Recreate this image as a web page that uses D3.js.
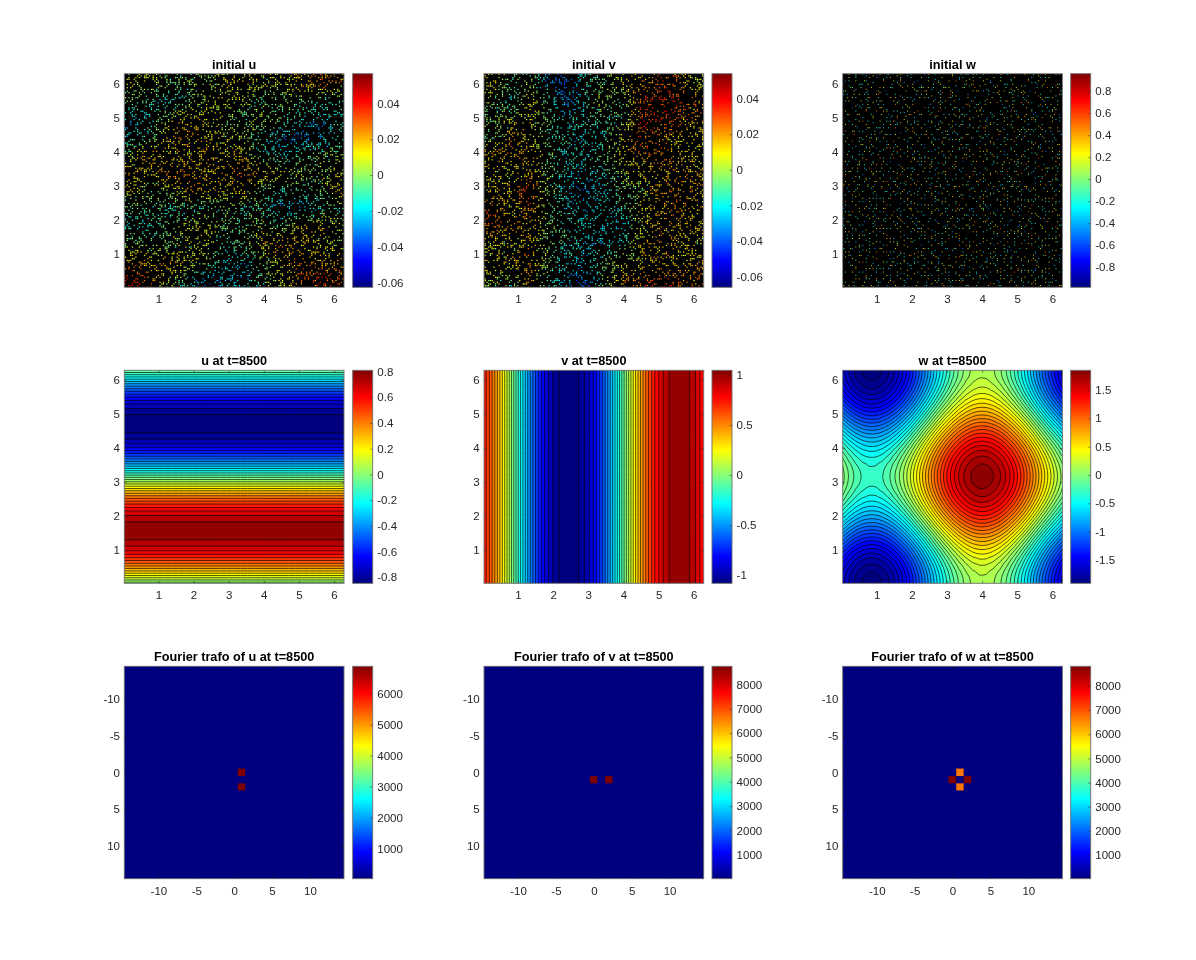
<!DOCTYPE html>
<html><head><meta charset="utf-8">
<script src="https://cdn.jsdelivr.net/npm/d3@7"></script>
<style>html,body{margin:0;background:#fff}svg{display:block}text{font-family:"Liberation Sans",Arial,sans-serif}</style>
</head><body><div id="chart"></div>
<script>
// ---------- values ----------
const titles = ["initial u","initial v","initial w","u at t=8500","v at t=8500","w at t=8500",
  "Fourier trafo of u at t=8500","Fourier trafo of v at t=8500","Fourier trafo of w at t=8500"];
const spaceTicks = [1,2,3,4,5,6];
const fourierTicks = [-10,-5,0,5,10];
const cbarDomains = [[-0.0627,0.0566],[-0.066,0.054],[-0.984,0.96],[-0.847,0.81],[-1.083,1.047],[-1.912,1.847],[20,6884],[10,8750],[10,8820]];
const cbarTicks = [
  [-0.06,-0.04,-0.02,0,0.02,0.04],[-0.06,-0.04,-0.02,0,0.02,0.04],[-0.8,-0.6,-0.4,-0.2,0,0.2,0.4,0.6,0.8],
  [-0.8,-0.6,-0.4,-0.2,0,0.2,0.4,0.6,0.8],[-1,-0.5,0,0.5,1],[-1.5,-1,-0.5,0,0.5,1,1.5],
  [1000,2000,3000,4000,5000,6000],[1000,2000,3000,4000,5000,6000,7000,8000],[1000,2000,3000,4000,5000,6000,7000,8000]];

// profiles sampled every pi/16 from 0 to 2pi, estimated from band positions and colours
const uAlongY = [-0.018,0.143,0.299,0.442,0.567,0.670,0.747,0.794,0.810,0.794,0.747,0.670,0.567,0.442,0.299,0.143,-0.018,
  -0.179,-0.335,-0.478,-0.603,-0.706,-0.783,-0.830,-0.846,-0.830,-0.783,-0.706,-0.603,-0.478,-0.335,-0.179,-0.018];
const vAlongX = [0.802,0.653,0.477,0.286,0.081,-0.129,-0.333,-0.523,-0.696,-0.843,-0.961,-1.039,-1.079,-1.078,-1.034,-0.954,-0.836,
  -0.688,-0.514,-0.322,-0.116,0.093,0.297,0.490,0.663,0.810,0.925,1.003,1.043,1.042,0.999,0.918,0.801];
const wAlongX = [-0.690,-0.830,-0.942,-1.017,-1.052,-1.047,-1.001,-0.917,-0.798,-0.648,-0.474,-0.281,-0.077,0.130,0.331,0.520,0.690,
  0.832,0.942,1.017,1.052,1.047,1.001,0.918,0.799,0.648,0.475,0.282,0.077,-0.130,-0.331,-0.520,-0.690];
const wAlongY = [-0.858,-0.846,-0.804,-0.732,-0.634,-0.511,-0.370,-0.217,-0.056,0.105,0.261,0.406,0.533,0.640,0.720,0.771,0.792,
  0.780,0.738,0.666,0.567,0.445,0.304,0.151,-0.009,-0.171,-0.327,-0.472,-0.600,-0.705,-0.785,-0.838,-0.856];
// contour levels: lowest, highest, count of intervals
const contourLevels = [[-0.814,0.778,30],[-1.04,1.002,30],[-1.866,1.79,42]];

// Fourier peaks [k, l, magnitude]; everything else sits at the colour-bar minimum
const fourierU = [[1,0,6884],[1,2,6884]];
const fourierV = [[0,1,8750],[2,1,8750]];
const fourierW = [[0,1,8820],[2,1,8820],[1,0,6700],[1,2,6700]];
const fourierModes = d3.range(-14,15);

// coarse estimate of the initial u and v fields, x 1000; rows run top to bottom
const initialUCoarse = [
 [5,8,-5,-3,0,8,10,5,5,15,25,20],[-5,-15,-20,-10,5,5,0,-10,-5,-5,-15,-10],
 [-25,-15,5,15,10,0,-5,5,-5,-15,-25,-15],[-20,-10,15,22,12,5,0,-15,-25,-35,-30,-15],
 [5,20,10,10,15,15,10,-10,-20,-15,0,-5],[15,12,25,25,15,15,28,15,10,5,-5,5],
 [10,-5,5,15,20,10,15,-5,-15,-10,-10,20],[-10,-5,-15,-10,-15,-5,-10,-10,-25,-30,-20,-10],
 [-20,-15,-5,5,10,-5,-10,5,-10,10,20,5],[0,-5,-5,5,5,-15,-5,15,25,15,5,0],
 [20,15,20,10,0,-20,-25,-5,10,25,20,15],[40,20,5,-15,-35,-20,-30,-5,5,20,35,30]];
const initialVCoarse = [
 [10,-15,-5,-30,-45,-15,-10,5,15,25,20,0],[-5,-20,5,-10,-35,-20,5,-15,25,35,30,20],
 [-5,0,10,-10,-25,-15,-15,-10,25,30,25,15],[-10,15,5,-15,-20,-25,-20,5,30,20,10,10],
 [15,20,15,-5,-20,-20,-10,5,15,25,15,5],[5,0,15,-5,-25,-25,-20,0,10,10,15,15],
 [10,15,30,0,-30,-30,-25,-10,-5,15,20,15],[25,5,25,-10,-20,-30,-20,-15,5,10,20,10],
 [25,15,15,-5,-15,-20,-25,-30,0,20,15,10],[5,0,15,-10,-15,-25,-25,-20,10,15,15,5],
 [10,10,20,-5,-25,-25,-10,0,5,15,5,15],[0,-10,15,-15,-30,-40,-10,15,20,30,25,20]];

// Hand-typed speckle texture. It imitates the noise; it is NOT a pixel reading of the reference.
// '.' = hidden under black contour lines, digit = local deviation from the coarse field.
const speckleTile = [
"..37...5....82..6.....47...3...58.....2...64....7..39...",
".46....53.....7.14...8...62....3.....715.....8.2...4..6.",
"...5.28...6.....3...59.....4.71...63....8......53..7....",
".7....4.....39....6....2.8.....5....46...27.......6...38.",
"..82.....61...5..47.....3...69.....7...5...4.83......1..",
"5.....37....4.....8...26....4...52.....8.....6...27...4",
"...46...2...75.......3.58.....1...6.37.....4.5......82..",
".8...5....3....6.24.....7...4.....8....25.....63...5....7",
"..3....71...58......46...2....69.....4...7.3.....82...5.",
"6...42.....3....7...5.....86.....3.5.....62...4.....7.1.",
"...7...58.....26.....3.7....4.2.....81....5....63....4..",
".25.....4.63.....8....5...3....7.46.....2...75......3..8",
"4....36....7...52...4.....61.....5.....37.....8..26.....",
"..68.....2...4......73...5...82....4.6.....5...3....75..",
".....5.47....36....2.....8...4.....63...7.1.....48.....2",
"37......5.....8..64....3...5.....72.....4.....6.3...58..",
"..4.26....8....3.....57.....4.6.....5.83....2....7....4.",
".6....53.....74...2....8.35.....6....1...47.....5...82..",
"...8.....36...5...47.....2....74....5.....6.3......4.7..",
"5..2.47.....6.....3.85.....6.....2.4.....73...58.....3..",
"..7.....58....24......6...3.5.7.....46.....8.....2.6...5",
".4...63.....7...5.8.....24.....5.3.....6.2....47.....8..",
"...35.....2..68.....4...7.....36....7.5.....4.....63...2.",
"8......46...3....72....5.63.....4.....28.....7.5......4.",
".52...7.....4.6.....38....2...7.....64...5......83...6..",
"...4.....85.....3.7.....46....5.2.....3.....67....4.2...",
"6...73.....2.54.....8.....3.6.....48....5.7.....2...6.3.",
"..2....6.48......5...37.....4....71.....6.....53....8...",
".7.5.....3...62.....4....85.....3...6.2....47......5..36",
"....84....5.....7.3...6.....52....8.....4.5.....26.....7",
"3.6.....27...4....5.....71...4.6.....35.....8.2....4....",
"...5.7.....6.38.....42....6.....5..7.....36....4...8.25.",
".48.....3.....5.6...7.2.....83.....4.....7.5.....63.....",
"5....62....8.4.....3.....57....2.6....8.....4.27.....5.3",
"..7.3.....5....26.....84....6.....53...7.....2...48.....",
".....4.68.....3...7.5.....2.4....6.....35.8.....7...2.6.",
"26.....5...47.....3...68.....7.2.....5....4.6.....83....",
"...83.....6.2.....54....7.3.....46......7...5.2.....6..4",
".5....7.4.....68.....2....4.5.....73.....6.....48...3...",
"..4.6.....38....5...72.....6...8.2.....54....3.....7.5.."];
// hand-typed column offsets that keep the tile rows from lining up
const rowOffsets = [0,17,5,29,11,37,3,23,41,13,31,7,47,19,2,43,26,9,35,15,52,21,6,39,12,33,27,1,45,18,8,49,24,14,36,4];
const droppedDigits = "2537";
// sparser speckle of the initial w panel; digit d stands for the value (d-5)*0.17
const sparseTile = [
"...6.....4...5.....7...3.....5...6....4...",
"..........................................",
".5...3.....6.......4.....8...5.....3......",
"........5.......................4.......6.",
"..4.....7...5...3.....6...2.....5.....7...",
"..........................................",
"6...5.......4.....8.....5.....6.....4.....",
"............3.............................",
"...4...6.......5.....3...7.......6...5....",
"..........................................",
".7.....5...2.....6.....4.....5...8.....6..",
"....................5.....................",
"...5.....6...4.......7...5.....3.......4..",
".........................................."];

// ---------- layout ----------
const W = 1196, H = 960;
const colLeft = [124.3,484,842.7], plotW = 219.7, cbLeft = [352.7,712,1070.7], cbW = 20;
const rowTop = [73.7,370.3,666.3], plotH = [213.6,213,212.4];
const titleGap = [4.7,5.6,5.6];
const tickColor = "#262626", boxColor = "#6e6e6e", fs = 11.5;

const jetStops = ["#00007f","#0000ff","#00ffff","#ffff00","#ff0000","#7f0000"];
const jetPos = [0,0.125,0.375,0.625,0.875,1];
const jet = domain => d3.scaleLinear().domain(jetPos.map(p => domain[0]+p*(domain[1]-domain[0]))).range(jetStops).clamp(true);

const svg = d3.select("#chart").append("svg").attr("width",W).attr("height",H).attr("viewBox",`0 0 ${W} ${H}`);
svg.append("rect").attr("width",W).attr("height",H).attr("fill","#fff");
const defs = svg.append("defs");
const softFilter = (id,sd) => defs.append("filter").attr("id",id)
  .attr("filterUnits","userSpaceOnUse").attr("x",0).attr("y",0).attr("width",W).attr("height",H)
  .attr("color-interpolation-filters","sRGB")
  .append("feGaussianBlur").attr("stdDeviation",sd);
softFilter("softSpeckle",0.5);
softFilter("softContour",0.3);
softFilter("softText",0.25);
const grad = defs.append("linearGradient").attr("id","jetGrad").attr("x1",0).attr("y1",1).attr("x2",0).attr("y2",0);
grad.selectAll("stop").data(jetStops).join("stop")
  .attr("offset",(d,i) => jetPos[i]).attr("stop-color",d => d);

const fieldFns = [
  (i,j) => uAlongY[j],
  (i,j) => vAlongX[i],
  (i,j) => wAlongX[i]+wAlongY[j]
];

function styleAxis(g, size){
  g.select(".domain").remove();
  g.selectAll("line").attr("stroke",tickColor).attr("stroke-width",0.6);
  g.selectAll("text").attr("font-size",size).attr("fill",tickColor);
}
const labels = svg.append("g").attr("filter","url(#softText)");

titles.forEach((title, p) => {
  const row = Math.floor(p/3), col = p%3;
  const x0 = colLeft[col], y0 = rowTop[row], h = plotH[row];
  const isFourier = row === 2;
  const x = d3.scaleLinear().domain(isFourier?[-14.5,14.5]:[0.0314,6.2832]).range([x0,x0+plotW]);
  const y = d3.scaleLinear().domain(isFourier?[-14.5,14.5]:[0.0314,6.2832]).range(isFourier?[y0,y0+h]:[y0+h,y0]);
  const color = jet(cbarDomains[p]);
  const clipId = "clip"+p;
  defs.append("clipPath").attr("id",clipId).append("rect").attr("x",x0).attr("y",y0).attr("width",plotW).attr("height",h);
  const plot = svg.insert("g",() => labels.node()).attr("clip-path",`url(#${clipId})`);

  if (row === 0) drawInitial(plot,p,x,y,color);
  if (row === 1) drawContours(plot,p-3,x,y,color);
  if (row === 2) drawFourier(plot,[fourierU,fourierV,fourierW][col],x,y,color,cbarDomains[p][0],x0,y0,h);

  // axes
  const ticks = isFourier ? fourierTicks : spaceTicks;
  const tl = 2.3;
  labels.append("g").attr("transform",`translate(0,${y0+h})`)
    .call(d3.axisBottom(x).tickValues(ticks).tickFormat(String).tickSize(-tl).tickPadding(8)).call(styleAxis,fs);
  labels.append("g").attr("transform",`translate(${x0},0)`)
    .call(d3.axisLeft(y).tickValues(ticks).tickFormat(String).tickSize(-tl).tickPadding(4.3)).call(styleAxis,fs);
  labels.append("g").attr("transform",`translate(0,${y0})`)
    .call(d3.axisTop(x).tickValues(ticks).tickFormat("").tickSize(-tl)).call(styleAxis,fs);
  labels.append("g").attr("transform",`translate(${x0+plotW},0)`)
    .call(d3.axisRight(y).tickValues(ticks).tickFormat("").tickSize(-tl)).call(styleAxis,fs);
  labels.append("rect").attr("x",x0).attr("y",y0).attr("width",plotW).attr("height",h)
    .attr("fill","none").attr("stroke",boxColor).attr("stroke-width",0.9);

  labels.append("text").attr("x",x0+plotW/2).attr("y",y0-titleGap[row]).attr("text-anchor","middle")
    .attr("font-size",12.7).attr("font-weight","bold").attr("fill","#000").text(title);

  // colour bar
  const cx = cbLeft[col];
  const cb = d3.scaleLinear().domain(cbarDomains[p]).range([y0+h,y0]);
  svg.insert("rect",() => labels.node()).attr("x",cx).attr("y",y0).attr("width",cbW).attr("height",h).attr("fill","url(#jetGrad)");
  labels.append("g").attr("transform",`translate(${cx+cbW},0)`)
    .call(d3.axisRight(cb).tickValues(cbarTicks[p]).tickFormat(String).tickSize(-tl).tickPadding(4.6)).call(styleAxis,fs);
  labels.append("rect").attr("x",cx).attr("y",y0).attr("width",cbW).attr("height",h)
    .attr("fill","none").attr("stroke",boxColor).attr("stroke-width",0.9);
});

function drawContours(g,which,x,y,color){
  const pad = 2, n = 33+2*pad, field = fieldFns[which];
  const clampI = i => Math.max(0,Math.min(32,i-pad));
  const flat = [];
  for (let j=0;j<n;j++) for (let i=0;i<n;i++) flat.push(field(clampI(i),clampI(j)));
  const [lo,hi,cnt] = contourLevels[which];
  const levels = d3.range(cnt+1).map(k => lo+(hi-lo)*k/cnt);
  const step = Math.PI/16;
  const px = c => x((c-0.5-pad)*step), py = c => y((c-0.5-pad)*step);
  const line = d3.line().x(d => px(d[0])).y(d => py(d[1])).curve(d3.curveCatmullRomClosed.alpha(0.5));
  const contours = d3.contours().size([n,n]).smooth(true).thresholds(levels)(flat);
  const soft = g.append("g").attr("filter","url(#softContour)");
  soft.append("rect").attr("x",x.range()[0]-4).attr("y",y.range()[1]-4).attr("width",plotW+8).attr("height",y.range()[0]-y.range()[1]+8)
    .attr("fill",color(cbarDomains[which+3][0]));
  soft.selectAll("path").data(contours).join("path")
    .attr("d",c => c.coordinates.flatMap(poly => poly.map(ring => line(ring.slice(0,-1)))).join(""))
    .attr("fill-rule","evenodd")
    .attr("fill",c => color(c.value))
    .attr("stroke","#000").attr("stroke-width",0.65).attr("stroke-linejoin","round");
}

// a tile lookup along rows and the same tile read along columns; the first hit decides the cell
function tileHit(tile,a,b,shift){
  const row = tile[(a+shift)%tile.length];
  return row[(b+rowOffsets[(a+shift)%rowOffsets.length]+shift)%row.length];
}

function drawInitial(g,which,x,y,color){
  g.append("rect").attr("x",x.range()[0]).attr("y",y.range()[1]).attr("width",plotW).attr("height",y.range()[0]-y.range()[1]).attr("fill","#000");
  const N = 128, cell = 2*Math.PI/N, cols = d3.range(N), cells = [];
  const coarse = [initialUCoarse,initialVCoarse][which];
  const look = (r,c) => coarse[Math.max(0,Math.min(11,r))][Math.max(0,Math.min(11,c))]/1000;
  const rowShift = [0,23,41][which];
  for (const r of cols) for (const c of cols) {
    if (which === 2) {
      let ch = tileHit(sparseTile,r,c,rowShift);
      if (ch === "." || ch === "5") ch = tileHit(sparseTile,c,r,rowShift+5);
      if (ch !== "." && ch !== "5") cells.push({c,r,v:(+ch-5)*0.17,s:0.55});
    } else {
      let ch = tileHit(speckleTile,r,c,rowShift);
      if (ch === "." || droppedDigits.includes(ch)) ch = tileHit(speckleTile,c,r,rowShift+11);
      if (ch !== "." && !droppedDigits.includes(ch)) {
        const fy = (N-1-r)/N*12-0.5, fx = c/N*12-0.5;
        const r0 = Math.floor(fy), c0 = Math.floor(fx), ty = fy-r0, tx = fx-c0;
        const base = d3.interpolateNumber(
          d3.interpolateNumber(look(r0,c0),look(r0,c0+1))(tx),
          d3.interpolateNumber(look(r0+1,c0),look(r0+1,c0+1))(tx))(ty);
        cells.push({c,r,v:base+(+ch-5)*0.003,s:0.72});
      }
    }
  }
  const w = x(cell)-x(0), h = y(0)-y(cell);
  g.append("g").attr("filter","url(#softSpeckle)").selectAll("rect").data(cells).join("rect")
    .attr("x",d => x(d.c*cell)).attr("y",d => y((d.r+1)*cell))
    .attr("width",d => w*d.s).attr("height",d => h*d.s)
    .attr("fill",d => color(d.v));
}

function drawFourier(g,peaks,x,y,color,low,x0,y0,h){
  g.append("rect").attr("x",x0).attr("y",y0).attr("width",plotW).attr("height",h).attr("fill",color(low));
  const cells = fourierModes.flatMap(l => fourierModes.map(k => {
    const hit = peaks.find(q => q[0]===k && q[1]===l);
    return {k,l,v:hit?hit[2]:low};
  }));
  g.selectAll("rect.cell").data(cells).join("rect").attr("class","cell")
    .attr("x",d => x(d.k-0.5)).attr("y",d => y(d.l-0.5))
    .attr("width",x(1)-x(0)).attr("height",y(1)-y(0))
    .attr("fill",d => color(d.v))
    .attr("stroke",d => color(d.v)).attr("stroke-width",0.3);
}
</script></body></html>
